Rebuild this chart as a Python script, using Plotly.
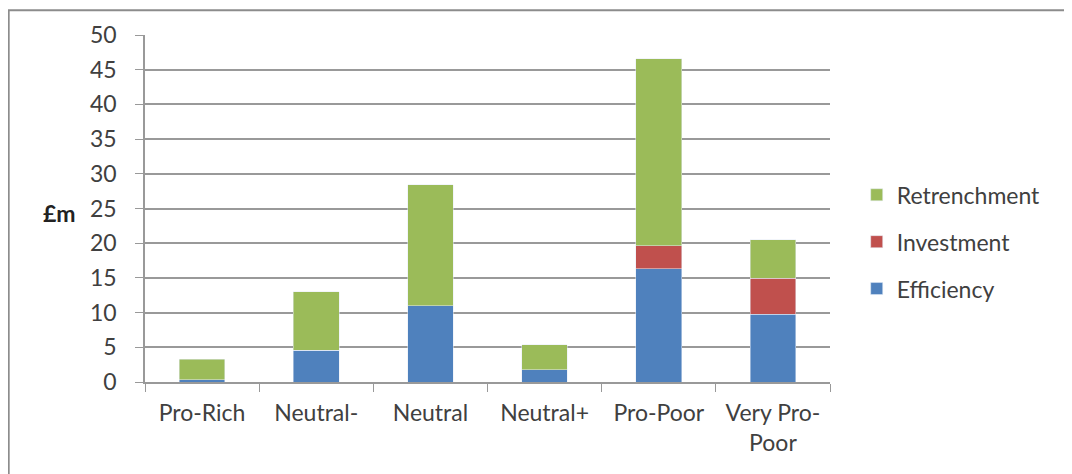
import plotly.graph_objects as go

# Categorías y valores (£m)
categories = ["Pro-Rich", "Neutral-", "Neutral", "Neutral+", "Pro-Poor", "Very Pro-<br>Poor"]
efficiency = [0.3, 4.55, 11.0, 1.8, 16.35, 9.75]
investment = [0.0, 0.0, 0.0, 0.0, 3.3, 5.2]
retrenchment = [3.0, 8.45, 17.4, 3.6, 26.9, 5.55]

font_family = "Lato, 'Open Sans', sans-serif"

fig = go.Figure()
fig.add_trace(go.Bar(x=categories, y=efficiency, name="Efficiency",
                     marker_color="#4F81BD", legendgroup="c", legendrank=3))
fig.add_trace(go.Bar(x=categories, y=investment, name="Investment",
                     marker_color="#C0504D", legendgroup="b", legendrank=2))
fig.add_trace(go.Bar(x=categories, y=retrenchment, name="Retrenchment",
                     marker_color="#9BBB59", legendgroup="a", legendrank=1))

# la página tiene 8 px de margen en el body
fig.update_layout(
    barmode="stack",
    bargap=0.6,
    width=1064, height=466,
    margin=dict(l=137, r=242, t=25, b=92),
    paper_bgcolor="white", plot_bgcolor="white",
    font=dict(family=font_family, size=23, color="#404040"),
    legend=dict(x=1.039, y=0.404, xanchor="left", yanchor="middle",
                traceorder="grouped", tracegroupgap=14, itemwidth=30,
                font=dict(size=23, color="#404040")),
    showlegend=True,
)

fig.update_yaxes(range=[0, 50], dtick=5, showgrid=True, gridcolor="#999999", gridwidth=1.5,
                 showline=True, linecolor="#999999", linewidth=1.5,
                 ticks="outside", ticklen=8, tickcolor="#999999", ticklabelstandoff=14,
                 zeroline=False)
fig.update_xaxes(showline=True, linecolor="#999999", linewidth=1.5,
                 ticks="outside", ticklen=8, tickcolor="#999999", tickson="boundaries",
                 ticklabelstandoff=10)

# Etiqueta del eje Y
fig.add_annotation(text="<b>£m</b>", xref="paper", yref="paper", x=-0.098, y=0.487,
                   showarrow=False, xanchor="right", yanchor="middle",
                   font=dict(size=23, color="#222222"))

# Marco del gráfico
fig.add_shape(type="rect", xref="paper", yref="paper",
              x0=-0.199, x1=1.5, y0=-0.3, y1=1.0716,
              line=dict(color="#8c8c8c", width=2), layer="below")

fig.write_html("out.html")
